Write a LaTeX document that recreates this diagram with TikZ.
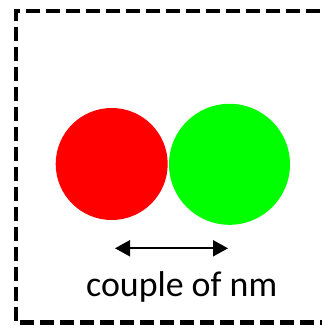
\documentclass[tikz,border=0pt]{standalone}
\usepackage{fontspec}
\setmainfont{Carlito}
\usepackage{tikz}
\tikzset{>=latex}
\usetikzlibrary{shapes,arrows,arrows.meta}
\usetikzlibrary{calc}
\tikzset{
  dot/.style={circle,inner sep=0pt,draw=none},
  frame/.style={line width=4bp,dash pattern=on 14bp off 6bp},
}
\begin{document}
\begin{tikzpicture}[line join=miter,x=1bp,y=1bp]
			\useasboundingbox (0,0) rectangle (322,331);
			\clip (0,0) rectangle (322,331);
			\draw[frame] (340,319.7) -- (15.8,319.7) -- (15.8,8.5) -- (340,8.5);
			\node[dot,fill=red,minimum size=112bp] (red) at (111.7,167) {};
			\node[dot,fill=green,minimum size=121bp] (green) at (229.5,166.7) {};
			\coordinate (l) at (115,82.7);
			\coordinate (r) at (228,82.7);
			\draw[{Triangle[length=15bp,width=16bp]}-{Triangle[length=15bp,width=16bp]},line width=2bp] (l) -- (r);
			\node[font=\fontsize{36}{40}\selectfont,anchor=base] (lbl) at (181.7,34.3) {couple of nm};
			\end{tikzpicture}
\end{document}
